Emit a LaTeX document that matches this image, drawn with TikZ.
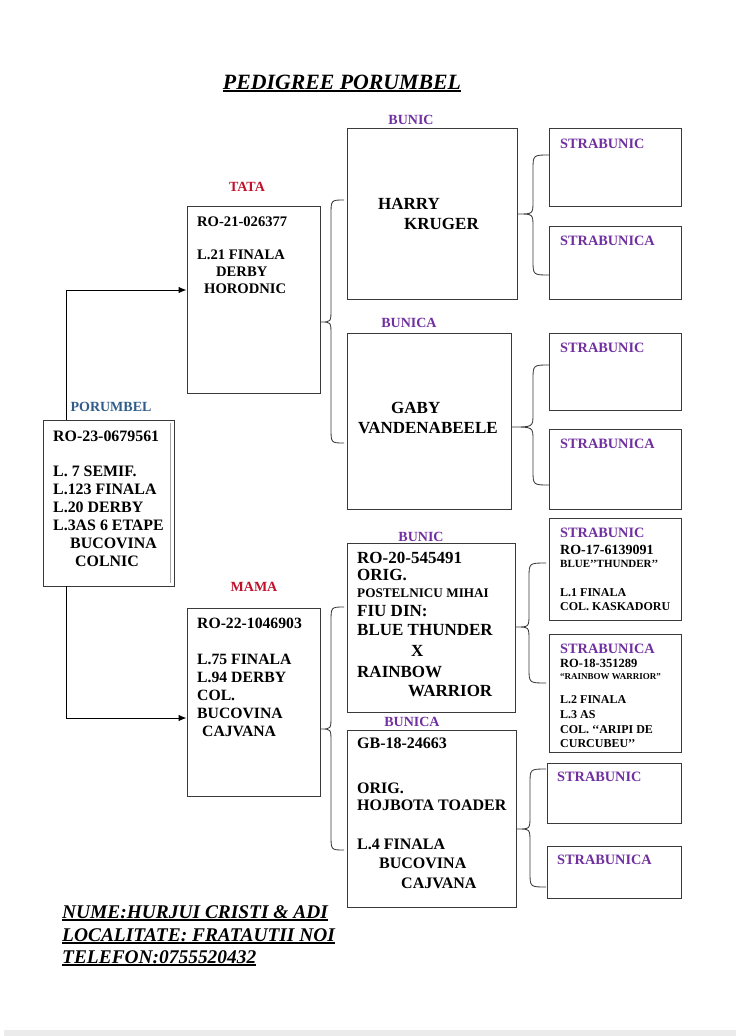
\documentclass[tikz,border=0pt]{standalone}
\usepackage{fontspec}
\setmainfont{Liberation Serif}
\usetikzlibrary{arrows.meta}
\definecolor{pur}{HTML}{7030A0}
\definecolor{redl}{HTML}{C0102A}
\definecolor{bluel}{HTML}{2F5C8A}
\definecolor{edge}{HTML}{3A3A3A}
\newcommand{\myul}[1]{\setbox0=\hbox{#1}\rlap{\rule[-3pt]{\wd0}{1.7pt}}\box0}
\newcommand{\bx}[5]{\node[box,minimum width={(#4-#2)*1pt},minimum height={(#5-#3)*1pt}] (#1) at ({(#2+#4)/2},{(#3+#5)/2}) {};}
\newcommand{\Tx}[6][black]{\node[anchor=base west,inner sep=0,text=#1,font=\fontsize{#2}{#2}\selectfont\bfseries] (#3) at (#4,#5) {#6};}
\newcommand{\Lb}[5]{\node[anchor=base,inner sep=0,text=#1,font=\fontsize{14}{14}\selectfont\bfseries] (#2) at (#3,#4) {#5};}
\newcommand{\brc}[6]{\draw[brace] (#6,#4) .. controls (#3,#4) .. (#3,{#4+15}) -- (#3,{#2-13}) .. controls (#3,#2) .. (#1,#2) .. controls (#3,#2) .. (#3,{#2+13}) -- (#3,{#5-15}) .. controls (#3,#5) .. (#6,#5);}
\begin{document}
\begin{tikzpicture}[x=1pt,y=-1pt,
  box/.style={draw=edge,line width=0.9pt,inner sep=0},
  brace/.style={draw=edge,line width=0.85pt},
  conn/.style={draw=black,line width=1pt,-{Latex[length=8pt,width=6.5pt]}},
  foot/.style={anchor=base west,inner sep=0,font=\fontsize{19.4}{22}\selectfont\bfseries\itshape}]
\useasboundingbox (0,0) rectangle (740,1036);
\fill[black!8] (4,1030) rectangle (736,1036);
% title
\node[anchor=base,inner sep=0,font=\fontsize{21.8}{24}\selectfont\bfseries\itshape] (title) at (342,89) {\myul{PEDIGREE PORUMBEL}};
% boxes
\bx{pbox}{43}{420}{174}{586}
\draw[black!35,line width=0.8pt] (170,423) -- (170,583);
\bx{tata}{187}{206}{320}{393}
\bx{mama}{187}{608}{320}{796}
\bx{bunic1}{347}{128}{517}{299}
\bx{bunica1}{347}{333}{511}{509}
\bx{bunic2}{347}{543}{515}{712}
\bx{bunica2}{347}{730}{516}{907}
\bx{s1}{549}{128}{681}{206}
\bx{s2}{549}{226}{681}{299}
\bx{s3}{549}{333}{681}{410}
\bx{s4}{549}{429}{681}{509}
\bx{s5}{549}{518}{681}{620}
\bx{s6}{549}{634}{681}{752}
\bx{s7}{547}{763}{681}{823}
\bx{s8}{547}{846}{681}{898}
% connectors
\coordinate (jt) at (66,290);
\coordinate (jm) at (66,718);
\draw[conn] (jt |- pbox.north) |- (tata.west |- jt);
\draw[conn] (jm |- pbox.south) |- (mama.west |- jm);
% braces
\brc{321}{322}{331}{200}{443}{344}
\brc{321}{729}{331}{607}{850}{344}
\brc{518}{214}{533}{155}{275}{549}
\brc{512}{427}{533}{365}{485}{549}
\brc{516}{627}{529}{563}{683}{546}
\brc{517}{829}{530}{769}{887}{546}
% labels
\Lb{pur}{lb1}{411}{124.5}{BUNIC}
\Lb{redl}{lt}{247}{191.5}{TATA}
\Lb{pur}{lba1}{409}{327.5}{BUNICA}
\Lb{bluel}{lp}{111}{411.5}{PORUMBEL}
\Lb{pur}{lb2}{421}{541.5}{BUNIC}
\Lb{redl}{lm}{254}{591.5}{MAMA}
\Lb{pur}{lba2}{412}{726.5}{BUNICA}
% porumbel
\Tx{15.9}{p1}{53}{441}{RO-23-0679561}
\Tx{15.9}{p2}{53}{476}{L. 7 SEMIF.}
\Tx{15.9}{p3}{53}{494}{L.123 FINALA}
\Tx{15.9}{p4}{53}{512}{L.20 DERBY}
\Tx{15.9}{p5}{53}{530}{L.3AS 6 ETAPE}
\Tx{15.9}{p6}{70}{548}{BUCOVINA}
\Tx{15.9}{p7}{75}{566}{COLNIC}
% tata
\Tx{14.6}{t1}{197}{226}{RO-21-026377}
\Tx{14.6}{t2}{197}{259}{L.21 FINALA}
\Tx{14.6}{t3}{216}{276}{DERBY}
\Tx{14.6}{t4}{204}{293}{HORODNIC}
% mama
\Tx{15.7}{m1}{197}{628}{RO-22-1046903}
\Tx{15.7}{m2}{197}{664}{L.75 FINALA}
\Tx{15.7}{m3}{197}{682}{L.94 DERBY}
\Tx{15.7}{m4}{197}{700}{COL.}
\Tx{15.7}{m5}{197}{718}{BUCOVINA}
\Tx{15.7}{m6}{202}{736}{CAJVANA}
% bunic1 / bunica1
\Tx{17}{h1}{378}{209}{HARRY}
\Tx{17}{h2}{404}{229}{KRUGER}
\Tx{17}{g1}{391}{413}{GABY}
\Tx{17}{g2}{358}{433}{VANDENABEELE}
% bunic2
\Tx{17}{b1}{357}{563}{RO-20-545491}
\Tx{17}{b2}{357}{580}{ORIG.}
\Tx{13.2}{b3}{357}{597}{POSTELNICU MIHAI}
\Tx{17}{b4}{357}{616}{FIU DIN:}
\Tx{17}{b5}{357}{635}{BLUE THUNDER}
\Tx{17}{b6}{411}{656}{X}
\Tx{17}{b7}{357}{677}{RAINBOW}
\Tx{17}{b8}{408}{696}{WARRIOR}
% bunica2
\Tx{16}{c1}{357}{748}{GB-18-24663}
\Tx{16}{c2}{357}{793}{ORIG.}
\Tx{16}{c3}{357}{810}{HOJBOTA TOADER}
\Tx{16}{c4}{357}{849}{L.4 FINALA}
\Tx{16}{c5}{379}{868}{BUCOVINA}
\Tx{16}{c6}{401}{888}{CAJVANA}
% strabunici
\Tx[pur]{14.3}{s1t}{560}{148}{STRABUNIC}
\Tx[pur]{14.3}{s2t}{560}{245}{STRABUNICA}
\Tx[pur]{14.3}{s3t}{560}{352}{STRABUNIC}
\Tx[pur]{14.3}{s4t}{560}{448}{STRABUNICA}
\Tx[pur]{14.3}{s5t}{560}{537}{STRABUNIC}
\Tx{14}{s5a}{560}{554}{RO-17-6139091}
\Tx{11}{s5b}{560}{567}{BLUE’’THUNDER’’}
\Tx{12}{s5c}{560}{596}{L.1 FINALA}
\Tx{12}{s5d}{560}{610}{COL. KASKADORU}
\Tx[pur]{14.3}{s6t}{560}{653}{STRABUNICA}
\Tx{12.5}{s6a}{560}{667}{RO-18-351289}
\Tx{9}{s6b}{560}{679}{“RAINBOW WARRIOR”}
\Tx{12}{s6c}{560}{703}{L.2 FINALA}
\Tx{12}{s6d}{560}{718}{L.3 AS}
\Tx{12}{s6e}{560}{733}{COL. ‘‘ARIPI DE}
\Tx{12}{s6f}{560}{747}{CURCUBEU’’}
\Tx[pur]{14.3}{s7t}{557}{781}{STRABUNIC}
\Tx[pur]{14.3}{s8t}{557}{864}{STRABUNICA}
% footer
\node[foot] (f1) at (62,918) {\myul{NUME:HURJUI CRISTI \& ADI}};
\node[foot] (f2) at (62,941) {\myul{LOCALITATE: FRATAUTII NOI}};
\node[foot] (f3) at (62,963) {\myul{TELEFON:0755520432}};
\end{tikzpicture}
\end{document}
